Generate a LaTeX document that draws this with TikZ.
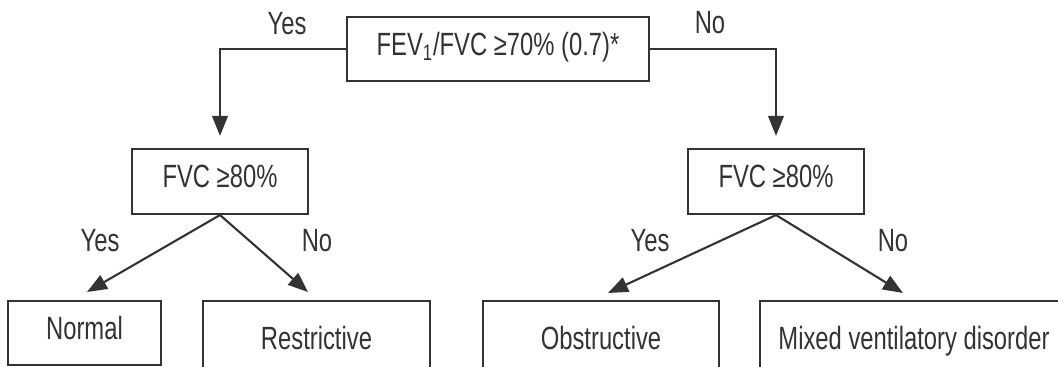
\documentclass[tikz,border=0pt]{standalone}
\usepackage{fontspec}
\setmainfont{Liberation Sans}[FakeStretch=0.74]
\usepackage{tikz}
\usetikzlibrary{arrows.meta,positioning}
\definecolor{ink}{HTML}{333333}
\tikzset{
  decision/.style={draw=ink,line width=1.2pt,fill=white,text=ink,
                   font=\fontsize{18.3}{20}\selectfont,
                   text height=0.72em,text depth=0pt,inner sep=0pt},
  outcome/.style={decision},
  answer/.style={text=ink,font=\fontsize{18.3}{20}\selectfont,
                 text height=0.72em,text depth=0pt,inner sep=0pt},
  conn/.style={-{Triangle[length=0.4cm,width=0.31cm]},line width=1.2pt,ink},
}

\begin{document}
\begin{tikzpicture}[x=0.02cm,y=-0.02cm]
  \useasboundingbox (0,0) rectangle (1058,367);
  \clip (0,0) rectangle (1058,367);
  % decisions
  \node[decision,minimum width=6.04cm,minimum height=1.28cm]
    (ratio) at (498,49) {FEV\textsubscript{1}/FVC ≥70\% (0.7)*};
  \node[decision,minimum width=3.52cm,minimum height=1.3cm]
    (fvcyes) at (220,181.5) {FVC ≥80\%};
  \node[decision,minimum width=3.52cm,minimum height=1.3cm]
    (fvcno) at (776,181.5) {FVC ≥80\%};
  % outcomes (the lower ones run off the page)
  \node[outcome,minimum width=3.06cm,minimum height=1.28cm]
    (normal) at (84.5,333) {Normal};
  \node[outcome,minimum width=4.54cm,minimum height=1.68cm]
    (restrictive) at (316.5,343) {Restrictive};
  \node[outcome,minimum width=4.72cm,minimum height=1.68cm]
    (obstructive) at (601,343) {Obstructive};
  \node[outcome,minimum width=6.16cm,minimum height=1.68cm]
    (mixed) at (914,343) {Mixed ventilatory disorder};
  % arrow ends
  \coordinate (tipnormal) at (87,292);
  \coordinate (tiprestrictive) at (308,292);
  \coordinate (tipobstructive) at (608,293);
  \coordinate (tipmixed) at (903,293);
  \draw[conn,shorten >=0.24cm] (ratio.west) -| (fvcyes.north);
  \draw[conn,shorten >=0.24cm] (ratio.east) -| (fvcno.north);
  \draw[conn] (fvcyes.south) -- (tipnormal);
  \draw[conn] (fvcyes.south) -- (tiprestrictive);
  \draw[conn] (fvcno.south) -- (tipobstructive);
  \draw[conn] (fvcno.south) -- (tipmixed);
  % answers
  \node[answer] (yestop) at (287,28) {Yes};
  \node[answer] (notop) at (710,27) {No};
  \node[answer] (yesleft) at (100,245) {Yes};
  \node[answer] (noleft) at (317,245) {No};
  \node[answer] (yesright) at (650,245) {Yes};
  \node[answer] (noright) at (893,245) {No};
\end{tikzpicture}
\end{document}
